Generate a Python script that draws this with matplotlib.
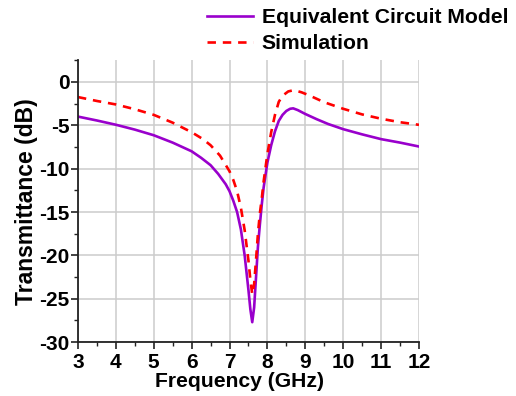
import numpy as np
import matplotlib
matplotlib.use('Agg')
import matplotlib.pyplot as plt
from matplotlib.ticker import MultipleLocator

# Transmittance of the resonator: equivalent circuit vs. full-wave simulation
freq_circuit = [3.0, 3.5, 4.0, 4.5, 5.0, 5.5, 6.0, 6.25, 6.5, 6.7, 6.9, 7.0,
                7.1, 7.2, 7.3, 7.4, 7.5, 7.55, 7.6, 7.65, 7.7, 7.75, 7.8,
                7.85, 7.9, 8.0, 8.1, 8.2, 8.3, 8.4, 8.5, 8.6, 8.68, 8.8,
                9.0, 9.3, 9.6, 10.0, 10.5, 11.0, 11.5, 12.0]
t_circuit = [-4.0, -4.45, -4.94, -5.5, -6.15, -7.0, -8.0, -8.75, -9.6,
             -10.6, -11.8, -12.6, -13.7, -15.0, -17.0, -20.0, -24.0, -26.2,
             -27.7, -26.0, -22.5, -19.0, -16.5, -14.2, -12.2, -9.3, -7.3,
             -5.7, -4.5, -3.8, -3.35, -3.1, -3.05, -3.25, -3.7, -4.3, -4.85,
             -5.45, -6.05, -6.6, -7.0, -7.45]

freq_sim = [3.0, 3.5, 4.0, 4.5, 5.0, 5.5, 6.0, 6.3, 6.5, 6.75, 7.0, 7.1,
            7.2, 7.3, 7.4, 7.5, 7.55, 7.6, 7.65, 7.7, 7.75, 7.8, 7.85, 7.9,
            8.0, 8.1, 8.2, 8.3, 8.4, 8.55, 8.7, 8.9, 9.1, 9.5, 10.0, 10.5,
            11.0, 11.5, 12.0]
t_sim = [-1.75, -2.2, -2.6, -3.15, -3.8, -4.7, -5.8, -6.6, -7.3, -8.5,
         -10.3, -11.3, -12.6, -14.5, -17.1, -20.6, -22.8, -24.5, -23.3,
         -20.5, -17.5, -15.2, -13.5, -11.5, -8.3, -5.8, -3.8, -2.3, -1.6,
         -1.1, -0.95, -1.2, -1.55, -2.35, -3.1, -3.75, -4.25, -4.65, -4.95]

plt.rcParams['font.family'] = ['Liberation Sans', 'DejaVu Sans']
plt.rcParams['font.weight'] = 'bold'
plt.rcParams['axes.unicode_minus'] = False

fig = plt.figure(figsize=(5.16, 3.96), dpi=100)
ax = fig.add_axes([0.151, 0.136, 0.661, 0.712])

ax.plot(freq_circuit, t_circuit, color='#9900cc', lw=1.9,
        label='Equivalent Circuit Model')
ax.plot(freq_sim, t_sim, color='#ff0000', lw=1.9, dashes=(3.2, 2.6),
        label='Simulation')

ax.set_xlim(3, 12)
ax.set_ylim(-30, 2.5)
ax.xaxis.set_major_locator(MultipleLocator(1))
ax.xaxis.set_minor_locator(MultipleLocator(0.5))
ax.yaxis.set_major_locator(MultipleLocator(5))
ax.yaxis.set_minor_locator(MultipleLocator(2.5))

ax.grid(True, which='major', color='#cccccc', lw=1.1)
ax.set_axisbelow(True)
for side in ('top', 'right'):
    ax.spines[side].set_visible(False)
for side in ('left', 'bottom'):
    ax.spines[side].set_linewidth(1.3)
    ax.spines[side].set_color('#222222')

ax.tick_params(which='major', direction='out', length=5, width=1.2,
               labelsize=15, color='#222222')
ax.tick_params(which='minor', direction='out', length=3, width=1.0,
               color='#222222')
ax.tick_params(axis='y', pad=1)
ax.tick_params(axis='x', pad=3)

ax.set_xlabel('Frequency (GHz)', fontsize=15.2, fontweight='bold')
ax.xaxis.set_label_coords(0.475, -0.105)
ax.set_ylabel('Transmittance (dB)', fontsize=16.5, fontweight='bold', labelpad=1)

fig.legend(loc='upper left', bbox_to_anchor=(0.376, 1.012), frameon=False,
           fontsize=15.2, handlelength=2.2, handletextpad=0.4,
           labelspacing=0.35, borderaxespad=0.2)

fig.savefig('out.png', dpi=100)
